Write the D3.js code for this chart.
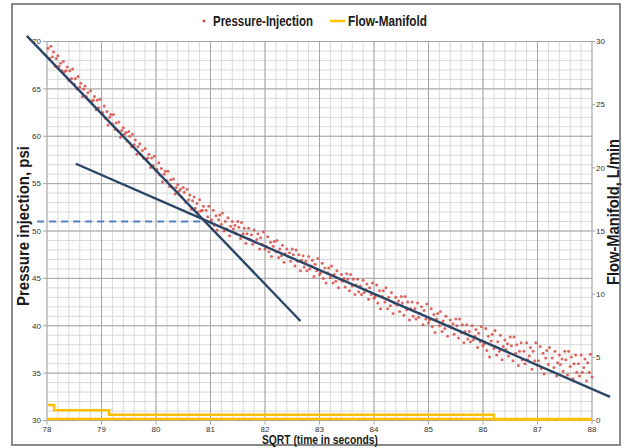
<!DOCTYPE html>
<html>
<head>
<meta charset="utf-8">
<script src="https://cdn.jsdelivr.net/npm/d3@7/dist/d3.min.js"></script>
<style>
  html, body { margin: 0; padding: 0; background: #fff; }
  svg { display: block; }
  text { font-family: "Liberation Sans", Arial, sans-serif; }
</style>
</head>
<body>
<div id="chart"></div>
<script>
// Pressure-Injection scatter [sqrt(t), psi]
const pressureInjection = [
  [78.02,69.3],[78.05,68.2],[78.07,69.5],[78.10,68.4],[78.12,68.9],[78.15,67.4],[78.17,68.2],[78.20,68.5],[78.22,67.4],[78.25,67.7],
  [78.27,66.9],[78.30,67.9],[78.32,66.8],[78.35,66.9],[78.37,67.3],[78.40,65.9],[78.42,66.9],[78.45,66.1],[78.47,67.1],[78.50,65.5],
  [78.52,66.1],[78.55,65.0],[78.57,66.3],[78.60,65.2],[78.62,65.6],[78.65,64.2],[78.67,65.0],[78.70,65.3],[78.72,64.2],[78.75,64.6],
  [78.77,63.8],[78.80,64.8],[78.82,63.7],[78.85,63.8],[78.87,64.2],[78.90,62.8],[78.92,63.8],[78.95,63.0],[78.97,63.9],[79.00,62.4],
  [79.02,62.5],[79.05,63.2],[79.07,61.9],[79.10,62.6],[79.12,61.2],[79.15,62.0],[79.17,62.3],[79.20,61.3],[79.22,62.3],[79.25,60.7],
  [79.27,61.4],[79.30,60.6],[79.32,61.5],[79.35,59.9],[79.37,60.6],[79.40,60.9],[79.42,60.2],[79.45,60.4],[79.47,59.5],[79.50,60.5],
  [79.52,60.0],[79.55,58.9],[79.57,60.2],[79.60,59.1],[79.62,59.6],[79.65,58.1],[79.67,58.9],[79.70,59.2],[79.72,58.1],[79.75,58.5],
  [79.77,57.7],[79.80,58.7],[79.82,57.6],[79.85,57.7],[79.87,58.1],[79.90,56.7],[79.92,57.7],[79.95,56.9],[79.97,57.9],[80.00,56.4],
  [80.02,56.5],[80.05,57.2],[80.07,55.9],[80.10,56.6],[80.12,55.2],[80.15,56.0],[80.17,56.3],[80.20,55.3],[80.22,56.3],[80.25,54.7],
  [80.27,55.4],[80.30,54.6],[80.32,55.5],[80.35,53.9],[80.37,54.6],[80.40,54.9],[80.42,54.2],[80.45,54.4],[80.47,53.6],[80.50,54.6],
  [80.52,54.1],[80.55,53.0],[80.57,54.4],[80.60,53.3],[80.62,53.8],[80.65,52.3],[80.67,53.2],[80.70,53.6],[80.72,52.4],[80.75,52.9],
  [80.77,52.0],[80.80,53.3],[80.82,52.1],[80.85,52.2],[80.87,52.6],[80.90,51.0],[80.92,52.2],[80.95,51.5],[80.97,52.6],[81.00,51.0],
  [81.02,51.2],[81.05,52.2],[81.07,50.6],[81.10,51.6],[81.12,50.1],[81.15,51.2],[81.17,51.7],[81.20,50.7],[81.22,51.9],[81.25,50.0],
  [81.27,51.0],[81.30,50.2],[81.32,51.4],[81.35,49.5],[81.37,50.5],[81.40,51.0],[81.42,50.2],[81.45,50.6],[81.47,49.7],[81.50,51.0],
  [81.52,50.4],[81.55,49.2],[81.57,50.9],[81.60,49.7],[81.62,50.3],[81.65,48.7],[81.67,49.7],[81.70,50.3],[81.72,49.1],[81.75,49.6],
  [81.77,48.6],[81.80,50.1],[81.82,48.8],[81.85,49.1],[81.87,49.7],[81.90,48.1],[81.92,49.3],[81.95,48.6],[81.97,49.9],[82.00,48.1],
  [82.02,48.4],[82.05,49.4],[82.07,47.8],[82.10,48.8],[82.12,47.3],[82.15,48.4],[82.17,48.9],[82.20,47.8],[82.22,49.0],[82.25,47.2],
  [82.27,48.1],[82.30,47.4],[82.32,48.5],[82.35,46.7],[82.37,47.6],[82.40,48.1],[82.42,47.3],[82.45,47.7],[82.47,46.8],[82.50,48.1],
  [82.52,47.5],[82.55,46.3],[82.57,48.0],[82.60,46.8],[82.62,47.5],[82.65,45.8],[82.67,46.9],[82.70,47.4],[82.72,46.2],[82.75,46.8],
  [82.77,45.8],[82.80,47.3],[82.82,46.0],[82.85,46.3],[82.87,46.9],[82.90,45.2],[82.92,46.5],[82.95,45.8],[82.97,47.1],[83.00,45.4],
  [83.02,45.6],[83.05,46.6],[83.07,45.0],[83.10,46.1],[83.12,44.5],[83.15,45.6],[83.17,46.1],[83.20,45.1],[83.22,46.3],[83.25,44.5],
  [83.27,45.4],[83.30,44.7],[83.32,45.8],[83.35,44.0],[83.37,44.9],[83.40,45.4],[83.42,44.7],[83.45,45.0],[83.47,44.1],[83.50,45.5],
  [83.52,44.9],[83.55,43.7],[83.57,45.4],[83.60,44.2],[83.62,44.9],[83.65,43.3],[83.67,44.3],[83.70,44.9],[83.72,43.6],[83.75,44.2],
  [83.77,43.3],[83.80,44.8],[83.82,43.5],[83.85,43.8],[83.87,44.4],[83.90,42.8],[83.92,44.0],[83.95,43.3],[83.97,44.5],[84.00,42.9],
  [84.02,43.1],[84.05,44.3],[84.07,42.4],[84.10,43.7],[84.12,41.8],[84.15,43.1],[84.17,43.7],[84.20,42.5],[84.22,44.0],[84.25,41.8],
  [84.27,43.0],[84.30,42.1],[84.32,43.5],[84.35,41.3],[84.37,42.4],[84.40,43.0],[84.42,42.2],[84.45,42.6],[84.47,41.5],[84.50,43.1],
  [84.52,42.4],[84.55,41.1],[84.57,43.1],[84.60,41.7],[84.62,42.5],[84.65,40.6],[84.67,41.8],[84.70,42.5],[84.72,41.0],[84.75,41.8],
  [84.77,40.7],[84.80,42.4],[84.82,40.9],[84.85,41.3],[84.87,42.0],[84.90,40.1],[84.92,41.6],[84.95,40.7],[84.97,42.3],[85.00,40.3],
  [85.02,40.6],[85.05,41.8],[85.07,39.9],[85.10,41.2],[85.12,39.3],[85.15,40.7],[85.17,41.3],[85.20,40.0],[85.22,41.5],[85.25,39.4],
  [85.27,40.5],[85.30,39.7],[85.32,41.0],[85.35,38.9],[85.37,40.0],[85.40,40.6],[85.42,39.8],[85.45,40.2],[85.47,39.1],[85.50,40.7],
  [85.52,40.0],[85.55,38.7],[85.57,40.7],[85.60,39.3],[85.62,40.1],[85.65,38.2],[85.67,39.4],[85.70,40.1],[85.72,38.6],[85.75,39.4],
  [85.77,38.3],[85.80,40.0],[85.82,38.5],[85.85,38.9],[85.87,39.6],[85.90,37.7],[85.92,39.2],[85.95,38.3],[85.97,39.9],[86.00,37.9],
  [86.02,38.1],[86.05,39.7],[86.07,37.4],[86.10,38.9],[86.12,36.7],[86.15,38.4],[86.17,39.1],[86.20,37.6],[86.22,39.5],[86.25,36.9],
  [86.27,38.3],[86.30,37.3],[86.32,39.0],[86.35,36.4],[86.37,37.8],[86.40,38.5],[86.42,37.5],[86.45,38.1],[86.47,36.8],[86.50,38.8],
  [86.52,37.9],[86.55,36.3],[86.57,38.8],[86.60,37.1],[86.62,38.0],[86.65,35.8],[86.67,37.3],[86.70,38.2],[86.72,36.4],[86.75,37.3],
  [86.77,36.0],[86.80,38.2],[86.82,36.4],[86.85,36.8],[86.87,37.7],[86.90,35.4],[86.92,37.3],[86.95,36.3],[86.97,38.2],[87.00,35.8],
  [87.02,36.3],[87.05,37.8],[87.07,35.5],[87.10,37.1],[87.12,34.9],[87.15,36.6],[87.17,37.4],[87.20,35.9],[87.22,37.7],[87.25,35.2],
  [87.27,36.6],[87.30,35.6],[87.32,37.3],[87.35,34.7],[87.37,36.1],[87.40,36.9],[87.42,35.9],[87.45,36.5],[87.47,35.2],[87.50,37.3],
  [87.52,36.4],[87.55,34.8],[87.57,37.3],[87.60,35.7],[87.62,36.7],[87.65,34.4],[87.67,36.0],[87.70,36.9],[87.72,35.1],[87.75,36.0],
  [87.77,34.7],[87.80,36.9],[87.82,35.1],[87.85,35.6],[87.87,36.5],[87.90,34.2],[87.92,36.1],[87.95,35.1],[87.97,37.0],[88.00,34.6]
];

// Flow-Manifold step line [sqrt(t), L/min]
const flowManifold = [[78.0,1.23],[78.13,1.23],[78.13,0.81],[79.14,0.81],[79.14,0.45],[86.2,0.45],[86.2,0.08],[88.0,0.08]];
const flowBase = [[78.0,0.12],[88.0,0.12]];

// straight-line fits and the closure pressure marker
const earlyTrend = [[77.63,70.6],[82.65,40.5]];
const lateTrend = [[78.53,57.1],[88.33,32.5]];
const closureLine = [[77.82,51],[80.9,51]];

const xTicks = [78,79,80,81,82,83,84,85,86,87,88];
const yTicks = [30,35,40,45,50,55,60,65,70];
const y2Ticks = [0,5,10,15,20,25,30];

const W = 632, H = 448;
const svg = d3.select('#chart').append('svg').attr('width', W).attr('height', H);

svg.append('rect').attr('x', 12).attr('y', 4).attr('width', 608).attr('height', 441)
  .attr('fill', '#fff').attr('stroke', '#8a8a8a').attr('stroke-width', 2);

const x = d3.scaleLinear().domain([78, 88]).range([47, 592]);
const y = d3.scaleLinear().domain([30, 70]).range([420.5, 41.5]);
const y2 = d3.scaleLinear().domain([0, 30]).range([420.5, 41.5]);

// grid
const grid = svg.append('g');
grid.selectAll('.vmin').data(x.ticks(50)).join('line')
  .attr('x1', d => x(d)).attr('x2', d => x(d)).attr('y1', y(70)).attr('y2', y(30))
  .attr('stroke', '#d9d9d9').attr('stroke-width', 1);
grid.selectAll('.hmin').data(y.ticks(40)).join('line')
  .attr('x1', x(78)).attr('x2', x(88)).attr('y1', d => y(d)).attr('y2', d => y(d))
  .attr('stroke', '#d9d9d9').attr('stroke-width', 1);
grid.selectAll('.vmaj').data(xTicks).join('line')
  .attr('x1', d => x(d)).attr('x2', d => x(d)).attr('y1', y(70)).attr('y2', y(30) + 4)
  .attr('stroke', '#a6a6a6').attr('stroke-width', 1);
grid.selectAll('.hmaj').data(yTicks).join('line')
  .attr('x1', x(78) - 4).attr('x2', x(88)).attr('y1', d => y(d)).attr('y2', d => y(d))
  .attr('stroke', '#a6a6a6').attr('stroke-width', 1);
grid.selectAll('.rtick').data(y2Ticks).join('line')
  .attr('x1', x(88)).attr('x2', x(88) + 3).attr('y1', d => y2(d)).attr('y2', d => y2(d))
  .attr('stroke', '#a6a6a6').attr('stroke-width', 1);

// tick labels
const tickStyle = s => s.attr('font-size', 8).attr('fill', '#333');
svg.append('g').selectAll('text').data(yTicks).join('text')
  .attr('x', x(78) - 6).attr('y', d => y(d)).attr('dy', '0.35em')
  .attr('text-anchor', 'end').text(d => d).call(tickStyle);
svg.append('g').selectAll('text').data(y2Ticks).join('text')
  .attr('x', x(88) + 4).attr('y', d => y2(d)).attr('dy', '0.35em')
  .attr('text-anchor', 'start').text(d => d).call(tickStyle);
svg.append('g').selectAll('text').data(xTicks).join('text')
  .attr('x', d => x(d)).attr('y', 432)
  .attr('text-anchor', 'middle').text(d => d).call(tickStyle);

// axis titles, condensed like the narrow font of the original
function title(sel, len) {
  return sel.attr('text-anchor', 'middle').attr('font-weight', 'bold').attr('fill', '#1a1a1a')
    .attr('textLength', len).attr('lengthAdjust', 'spacingAndGlyphs');
}
svg.append('text').attr('transform', 'translate(29,226) rotate(-90)')
  .attr('font-size', 17).text('Pressure injection, psi').call(title, 160);
svg.append('text').attr('transform', 'translate(618.5,212) rotate(-90)')
  .attr('font-size', 16).text('Flow-Manifold, L/min').call(title, 146);
svg.append('text').attr('x', 320).attr('y', 444)
  .attr('font-size', 13).text('SQRT (time in seconds)').call(title, 116);

// flow series
const lineP = d3.line().x(d => x(d[0])).y(d => y(d[1]));
const lineF = d3.line().x(d => x(d[0])).y(d => y2(d[1]));
svg.append('path').datum(flowBase).attr('d', lineF)
  .attr('fill', 'none').attr('stroke', '#ffc000').attr('stroke-width', 2.5);
svg.append('path').datum(flowManifold).attr('d', lineF)
  .attr('fill', 'none').attr('stroke', '#ffc000').attr('stroke-width', 2.5);

// pressure scatter
svg.append('g').selectAll('circle').data(pressureInjection).join('circle')
  .attr('cx', d => x(d[0])).attr('cy', d => y(d[1])).attr('r', 1.5)
  .attr('fill', '#d6423a').attr('opacity', 0.8);

// fits
svg.append('path').datum(closureLine).attr('d', lineP)
  .attr('fill', 'none').attr('stroke', '#4f81bd').attr('stroke-width', 2)
  .attr('stroke-dasharray', '7,5');
[earlyTrend, lateTrend].forEach(t => {
  svg.append('path').datum(t).attr('d', lineP)
    .attr('fill', 'none').attr('stroke', '#2a4666').attr('stroke-width', 2.4);
});

// legend
const leg = svg.append('g').attr('font-size', 14).attr('font-weight', 'bold').attr('fill', '#1a1a1a');
leg.append('circle').attr('cx', 204).attr('cy', 21).attr('r', 1.4).attr('fill', '#d6423a');
leg.append('text').attr('x', 213).attr('y', 21).attr('dy', '0.35em')
  .attr('textLength', 100).attr('lengthAdjust', 'spacingAndGlyphs').text('Pressure-Injection');
leg.append('line').attr('x1', 330).attr('x2', 345).attr('y1', 21).attr('y2', 21)
  .attr('stroke', '#ffc000').attr('stroke-width', 2.5);
leg.append('text').attr('x', 348).attr('y', 21).attr('dy', '0.35em')
  .attr('textLength', 79).attr('lengthAdjust', 'spacingAndGlyphs').text('Flow-Manifold');
</script>
</body>
</html>
